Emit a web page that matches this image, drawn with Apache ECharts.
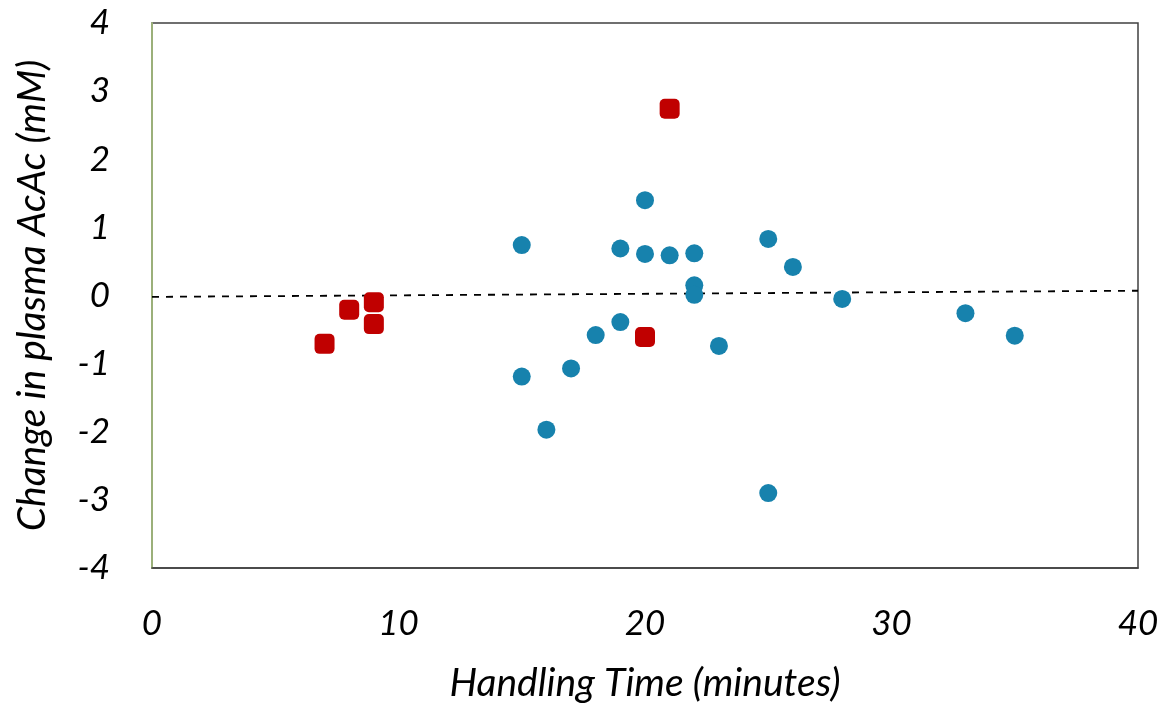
<!DOCTYPE html>
<html lang="en">
<head>
  <meta charset="UTF-8">
  <title>AcAc vs handling time</title>
  <script src="https://cdn.jsdelivr.net/npm/echarts@6/dist/echarts.min.js"></script>
  <style>
    html, body { margin: 0; padding: 0; background: #fff; }
    #chart { width: 1167px; height: 708px; }
  </style>
</head>
<body>
  <div id="chart"></div>
  <script>
    // blue circles
    var blueX = [15, 15, 16, 17, 18, 19, 19, 20, 20, 21, 22, 22, 22, 23, 25, 25, 26, 28, 33, 35];
    var blueY = [0.74, -1.19, -1.97, -1.07, -0.58, 0.69, -0.39, 1.40, 0.61, 0.59, 0.62, 0.15, 0.01, -0.74, 0.83, -2.9, 0.42, -0.05, -0.26, -0.59];
    // red squares
    var redX = [7, 8, 9, 9, 20, 21];
    var redY = [-0.71, -0.21, -0.1, -0.42, -0.61, 2.74];
    // dashed trend line
    var trendX = [0, 40];
    var trendY = [-0.02, 0.07];

    function pairs(xs, ys) {
      var out = [];
      for (var i = 0; i < xs.length; i++) out.push([xs[i], ys[i]]);
      return out;
    }

    var labelFont = { fontFamily: 'Lato', fontStyle: 'italic', fontSize: 35, color: '#000' };
    var titleFont = { fontFamily: 'Lato', fontStyle: 'italic', fontSize: 39, color: '#000' };

    var chart = echarts.init(document.getElementById('chart'), null, { renderer: 'canvas' });
    chart.setOption({
      animation: false,
      grid: { left: 152, right: 29, top: 23, bottom: 138, show: true, borderColor: '#404040', borderWidth: 1.5 },
      xAxis: {
        type: 'value', min: 0, max: 40, interval: 10,
        name: 'Handling Time (minutes)', nameLocation: 'middle', nameGap: 96,
        nameTextStyle: titleFont,
        axisLine: { show: true, onZero: false, lineStyle: { color: '#404040', width: 1.5 } },
        axisTick: { show: false },
        splitLine: { show: false },
        axisLabel: Object.assign({ margin: 38 }, labelFont)
      },
      yAxis: {
        type: 'value', min: -4, max: 4, interval: 1,
        name: 'Change in plasma AcAc (mM)', nameLocation: 'middle', nameGap: 100,
        nameTextStyle: titleFont,
        axisLine: { show: true, onZero: false, lineStyle: { color: '#9BB07A', width: 2 } },
        axisTick: { show: false },
        splitLine: { show: false },
        axisLabel: Object.assign({ margin: 42 }, labelFont)
      },
      series: [
        {
          type: 'line', data: pairs(trendX, trendY), symbol: 'none',
          lineStyle: { color: '#000', width: 1.8, type: [7, 7] }, z: 1
        },
        {
          type: 'scatter', data: pairs(blueX, blueY), symbol: 'circle', symbolSize: 18,
          itemStyle: { color: '#1782AD', opacity: 1 }, z: 2
        },
        {
          type: 'scatter', data: pairs(redX, redY), symbol: 'roundRect', symbolSize: 20,
          itemStyle: { color: '#C00000', opacity: 1 }, z: 3
        }
      ]
    });
  </script>
</body>
</html>
